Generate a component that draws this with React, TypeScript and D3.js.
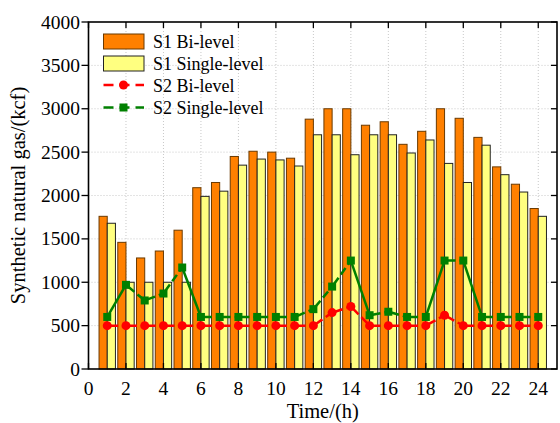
import React from "react";
import { scaleLinear, range } from "d3";

const hours = range(1, 25);
const s1Bi = [1760, 1460, 1280, 1360, 1600, 2090, 2150, 2450, 2510, 2500, 2430, 2880, 3000, 3000, 2810, 2850, 2590, 2740, 3000, 2890, 2670, 2330, 2130, 1850];
const s1Single = [1680, 1000, 1000, 1000, 1000, 1990, 2050, 2350, 2420, 2410, 2340, 2700, 2700, 2470, 2700, 2700, 2490, 2640, 2370, 2150, 2580, 2240, 2040, 1760];
const s2Bi = [500, 500, 500, 500, 500, 500, 500, 500, 500, 500, 500, 500, 650, 720, 500, 500, 500, 500, 620, 500, 500, 500, 500, 500];
const s2Single = [600, 970, 790, 870, 1170, 600, 600, 600, 600, 600, 600, 690, 950, 1250, 620, 660, 600, 600, 1250, 1250, 600, 600, 600, 600];
const xTicks = range(0, 25, 2);
const yTicks = range(0, 4001, 500);

const W = 560;
const H = 423;
const m = { left: 88.5, right: 557, top: 22, bottom: 369 };
const font = "'Liberation Serif', 'Times New Roman', serif";

export default function App() {
  const x = scaleLinear().domain([0, 25]).range([m.left, m.right]);
  const y = scaleLinear().domain([0, 4000]).range([m.bottom, m.top]);
  const bw = 8.2;

  // each segment on its own; steep ones show up solid in the original
  const segments = (vals: number[], color: string, key: string) =>
    vals.slice(1).map((v, i) => (
      <line
        key={key + i}
        x1={x(hours[i])}
        y1={y(vals[i])}
        x2={x(hours[i + 1])}
        y2={y(v)}
        stroke={color}
        strokeWidth={2.5}
        strokeDasharray={Math.abs(v - vals[i]) > 300 ? undefined : "8,4"}
        strokeDashoffset={-3}
      />
    ));

  return (
    <svg
      width={W}
      height={H}
      style={{ position: "absolute", left: 0, top: 0, background: "#fff", fontFamily: font }}
    >
      {/* grid */}
      {xTicks.slice(1).map((t) => (
        <line key={"gx" + t} x1={x(t)} x2={x(t)} y1={m.top} y2={m.bottom} stroke="#c8c8c8" strokeWidth={1} strokeDasharray="1,2" />
      ))}
      {yTicks.slice(1, -1).map((t) => (
        <line key={"gy" + t} x1={m.left} x2={m.right} y1={y(t)} y2={y(t)} stroke="#c8c8c8" strokeWidth={1} strokeDasharray="1,2" />
      ))}

      {/* bars */}
      {hours.map((h, i) => (
        <g key={"b" + h}>
          <rect x={x(h) - bw} y={y(s1Bi[i])} width={bw} height={y(0) - y(s1Bi[i])} fill="#FF8000" stroke="#6b3a00" strokeWidth={1} />
          <rect x={x(h)} y={y(s1Single[i])} width={bw} height={y(0) - y(s1Single[i])} fill="#FFFF80" stroke="#222" strokeWidth={1} />
        </g>
      ))}

      {/* lines */}
      {segments(s2Single, "#008000", "sg")}
      {hours.map((h, i) => (
        <rect key={"sq" + h} x={x(h) - 4} y={y(s2Single[i]) - 4} width={8} height={8} fill="#008000" />
      ))}
      {segments(s2Bi, "#FF0000", "rd")}
      {hours.map((h, i) => (
        <circle key={"c" + h} cx={x(h)} cy={y(s2Bi[i])} r={4.5} fill="#FF0000" />
      ))}

      {/* frame */}
      <rect x={m.left} y={m.top} width={m.right - m.left} height={m.bottom - m.top} fill="none" stroke="#000" strokeWidth={1.6} />

      {/* x ticks */}
      {xTicks.map((t) => (
        <g key={"xt" + t}>
          <line x1={x(t)} x2={x(t)} y1={m.bottom} y2={m.bottom - 6} stroke="#000" strokeWidth={1.3} />
          <line x1={x(t)} x2={x(t)} y1={m.top} y2={m.top + 6} stroke="#000" strokeWidth={1.3} />
          <text x={x(t)} y={395} textAnchor="middle" fontSize={19.5}>{t}</text>
        </g>
      ))}
      {/* y ticks */}
      {yTicks.map((t) => (
        <g key={"yt" + t}>
          <line x1={m.left} x2={m.left - 7} y1={y(t)} y2={y(t)} stroke="#000" strokeWidth={1.3} />
          <line x1={m.right} x2={m.right - 6} y1={y(t)} y2={y(t)} stroke="#000" strokeWidth={1.3} />
          <text x={80} y={y(t) + 6.5} textAnchor="end" fontSize={19.5}>{t}</text>
        </g>
      ))}

      {/* axis titles */}
      <text x={(m.left + m.right) / 2} y={418} textAnchor="middle" fontSize={20.5}>Time/(h)</text>
      <text transform={`translate(25,${(m.top + m.bottom) / 2}) rotate(-90)`} textAnchor="middle" fontSize={20.5}>
        Synthetic natural gas/(kcf)
      </text>

      {/* legend */}
      <g fontSize={18}>
        <rect x={103.5} y={34} width={40.5} height={15} fill="#FF8000" stroke="#6b3a00" strokeWidth={1} />
        <text x={153} y={48}>S1 Bi-level</text>
        <rect x={103.5} y={56} width={40.5} height={15} fill="#FFFF80" stroke="#222" strokeWidth={1} />
        <text x={153} y={70}>S1 Single-level</text>
        <line x1={103.5} x2={144} y1={85} y2={85} stroke="#FF0000" strokeWidth={2.5} strokeDasharray="10,6" />
        <circle cx={123.5} cy={85} r={4.5} fill="#FF0000" />
        <text x={153} y={92}>S2 Bi-level</text>
        <line x1={103.5} x2={144} y1={107.5} y2={107.5} stroke="#008000" strokeWidth={2.5} strokeDasharray="10,6" />
        <rect x={119.5} y={103.5} width={8} height={8} fill="#008000" />
        <text x={153} y={114}>S2 Single-level</text>
      </g>
    </svg>
  );
}
